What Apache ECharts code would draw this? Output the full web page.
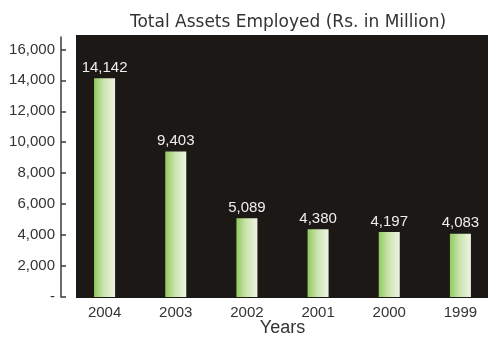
<!DOCTYPE html>
<html>
<head>
<meta charset="utf-8">
<script src="https://cdn.jsdelivr.net/npm/echarts@6/dist/echarts.min.js"></script>
<style>
  html, body { margin: 0; padding: 0; background: #ffffff; }
  #chart { width: 488px; height: 338px; }
</style>
</head>
<body>
<div id="chart"></div>
<script>
// Years shown along the category axis (most recent first)
var years = ['2004', '2003', '2002', '2001', '2000', '1999'];
// Total assets employed, Rs. in million
var assets = [14142, 9403, 5089, 4380, 4197, 4083];
// Labelled positions on the value axis
var yTicks = [0, 2000, 4000, 6000, 8000, 10000, 12000, 14000, 16000];

function withCommas(v) {
  return String(v).replace(/\B(?=(\d{3})+(?!\d))/g, ',');
}

var FONT = 'Liberation Sans, Arial, sans-serif';

var chart = echarts.init(document.getElementById('chart'), null, { renderer: 'canvas' });

chart.setOption({
  animation: false,
  backgroundColor: '#ffffff',
  title: {
    text: 'Total Assets Employed (Rs. in Million)',
    left: 283,
    top: 9,
    textAlign: 'center',
    textStyle: { fontFamily: 'DejaVu Sans, Verdana, sans-serif', fontSize: 17, fontWeight: 'normal', color: '#333333' }
  },
  graphic: [{
    type: 'rect',
    z: -1,
    shape: { x: 76, y: 35, width: 412, height: 263 },
    style: { fill: '#1c1816' }
  }],
  grid: { left: 69, top: 37, width: 427, height: 260, containLabel: false, outerBoundsMode: 'none' },
  xAxis: {
    type: 'category',
    data: years,
    axisLine: { show: false },
    axisTick: { show: false },
    axisLabel: { color: '#333333', fontSize: 15, fontFamily: FONT, margin: 8 },
    name: 'Years',
    nameLocation: 'middle',
    nameGap: 22,
    nameMoveOverlap: false,
    nameTextStyle: { color: '#333333', fontSize: 18, fontFamily: FONT }
  },
  yAxis: {
    type: 'value',
    min: 0,
    max: 16800,
    offset: 8,
    splitLine: { show: false },
    axisLine: { show: true, lineStyle: { color: '#3a3a3a', width: 1.5 } },
    axisTick: { show: true, inside: true, length: 5, customValues: yTicks, lineStyle: { color: '#3a3a3a', width: 1.5 } },
    axisLabel: {
      customValues: yTicks,
      color: '#333333',
      fontSize: 15,
      fontFamily: FONT,
      margin: 6,
      formatter: function (v) { return v === 0 ? '-' : withCommas(v); }
    }
  },
  series: [{
    type: 'bar',
    data: assets,
    barWidth: 21,
    itemStyle: {
      color: new echarts.graphic.LinearGradient(0, 0, 1, 0, [
        { offset: 0, color: '#92c95c' },
        { offset: 0.45, color: '#c9e4ad' },
        { offset: 1, color: '#eef3e2' }
      ])
    },
    label: {
      show: true,
      position: 'top',
      distance: 3,
      color: '#eeeeee',
      fontSize: 15,
      fontFamily: FONT,
      formatter: function (p) { return withCommas(p.value); }
    }
  }]
});
</script>
</body>
</html>
